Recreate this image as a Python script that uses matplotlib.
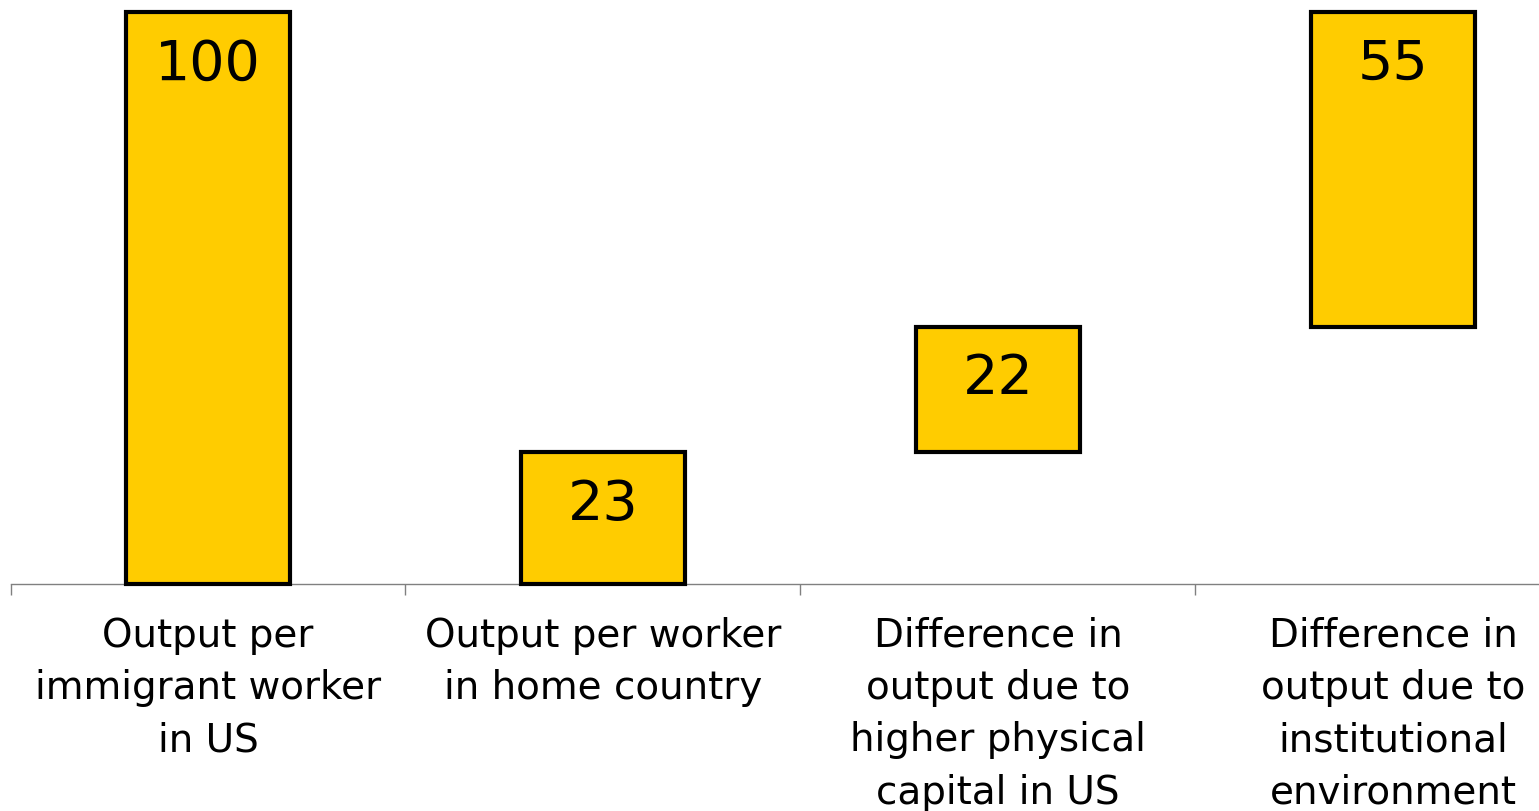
import numpy as np
import matplotlib.pyplot as plt

# waterfall data
categories = ["Output per\nimmigrant worker\nin US",
              "Output per worker\nin home country",
              "Difference in\noutput due to\nhigher physical\ncapital in US",
              "Difference in\noutput due to\ninstitutional\nenvironment"]
heights = [100, 23, 22, 55]
bottoms = [0, 0, 23, 45]
value_labels = ["100", "23", "22", "55"]

W, H = 1539, 811
fig = plt.figure(figsize=(W / 100, H / 100), dpi=100)

# axes reaches past the right edge of the figure, as in the original
left_px, base_px, top_px, cat_px = 10.5, 584, 12, 395
ax = fig.add_axes([left_px / W, (H - base_px) / H, 4 * cat_px / W, (base_px - top_px) / H])

x = np.arange(len(heights))
ax.bar(x, heights, bottom=bottoms, width=0.415, color="#FFCC00",
       edgecolor="black", linewidth=3, clip_on=False, zorder=3)

ax.set_xlim(-0.5, 3.5)
ax.set_ylim(0, 100)

for xi, h, b, lab in zip(x, heights, bottoms, value_labels):
    ax.text(xi, b + h - 9.2, lab, ha="center", va="center", fontsize=40,
            color="black", zorder=4)

for xi, cat in zip(x, categories):
    ax.text(xi, -5.7, cat, ha="center", va="top", fontsize=28,
            linespacing=1.48, color="black")

for s in ["top", "right", "left"]:
    ax.spines[s].set_visible(False)
ax.spines["bottom"].set_color("#808080")
ax.spines["bottom"].set_linewidth(1)
ax.set_yticks([])
ax.set_xticks(np.arange(-0.5, 4, 1))
ax.set_xticklabels([])
ax.tick_params(axis="x", direction="out", length=8, width=1, color="#808080")

fig.savefig("out.png", dpi=100)
